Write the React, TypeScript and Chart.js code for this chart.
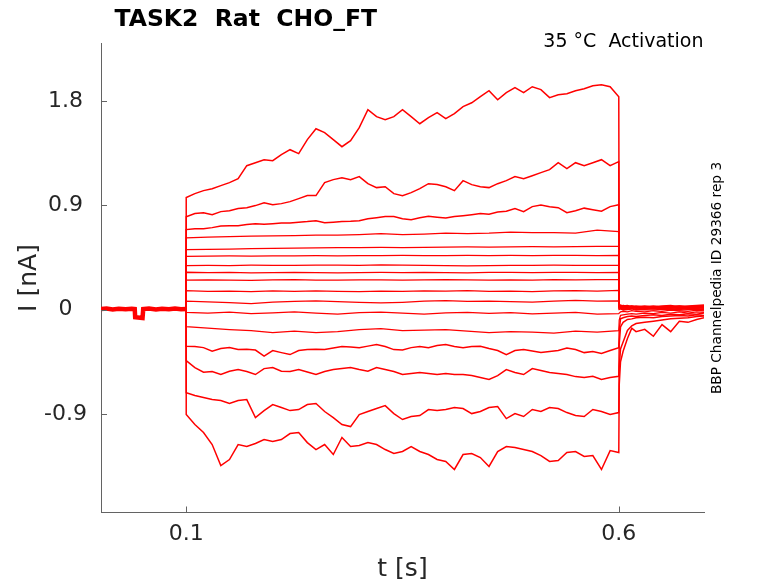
import React, { useEffect, useRef } from 'react';
import { Chart, registerables } from 'chart.js';

Chart.register(...registerables);

// ---------- texts ----------
const TITLE = 'TASK2  Rat  CHO_FT';
const CONDITION = '35 °C  Activation';
const SOURCE = 'BBP Channelpedia ID 29366 rep 3';
const X_LABEL = 't [s]';
const Y_LABEL = 'I [nA]';

// ---------- axes ----------
const X_MIN = 0.0015;
const X_MAX = 0.6985;
const Y_MIN = -1.75;
const Y_MAX = 2.295;
const X_TICKS = [0.1, 0.6];
const X_TICK_LABELS = ['0.1', '0.6'];
const Y_TICKS = [-0.9, 0, 0.9, 1.8];
const Y_TICK_LABELS = ['-0.9', '0', '0.9', '1.8'];

// ---------- time bases (s) ----------
const STEP_START = 0.1;
const PRE_T = [0.0015, 0.008, 0.015, 0.022, 0.03, 0.037, 0.0405, 0.041, 0.0495, 0.0503, 0.057, 0.065, 0.072, 0.08, 0.087, 0.094, 0.1];
const PRE_I = [0.004, 0.009, 0.002, 0.008, 0.003, 0.007, 0.004, -0.066, -0.072, 0.005, 0.009, 0.002, 0.008, 0.004, 0.01, 0.004, 0.006];

const T_FINE = [0.1, 0.11, 0.12, 0.13, 0.14, 0.15, 0.16, 0.17, 0.18, 0.19, 0.2, 0.21, 0.22, 0.23, 0.24, 0.25, 0.26, 0.27, 0.28, 0.29, 0.3, 0.31, 0.32, 0.33, 0.34, 0.35, 0.36, 0.37, 0.38, 0.39, 0.4, 0.41, 0.42, 0.43, 0.44, 0.45, 0.46, 0.47, 0.48, 0.49, 0.5, 0.51, 0.52, 0.53, 0.54, 0.55, 0.56, 0.57, 0.58, 0.59, 0.6];
const T_COARSE = [0.1, 0.125, 0.15, 0.175, 0.2, 0.225, 0.25, 0.275, 0.3, 0.325, 0.35, 0.375, 0.4, 0.425, 0.45, 0.475, 0.5, 0.525, 0.55, 0.575, 0.6];
const TAIL_T = [0.6005, 0.602, 0.605, 0.61, 0.615, 0.62, 0.63, 0.64, 0.65, 0.66, 0.67, 0.68, 0.69, 0.6985];

// ---------- currents during the step (nA) ----------
const I_01 = [0.966, 1.0, 1.026, 1.043, 1.069, 1.095, 1.129, 1.241, 1.267, 1.293, 1.284, 1.336, 1.379, 1.345, 1.466, 1.56, 1.526, 1.466, 1.405, 1.457, 1.569, 1.724, 1.664, 1.638, 1.664, 1.724, 1.664, 1.603, 1.655, 1.698, 1.647, 1.69, 1.75, 1.784, 1.836, 1.888, 1.81, 1.871, 1.914, 1.871, 1.922, 1.897, 1.828, 1.853, 1.862, 1.888, 1.905, 1.931, 1.94, 1.922, 1.836];
const I_02 = [0.8, 0.828, 0.836, 0.819, 0.845, 0.853, 0.871, 0.879, 0.897, 0.922, 0.905, 0.914, 0.931, 0.957, 0.983, 0.983, 1.095, 1.121, 1.138, 1.121, 1.147, 1.086, 1.052, 1.06, 1.0, 0.983, 1.009, 1.043, 1.086, 1.078, 1.06, 1.026, 1.112, 1.078, 1.06, 1.052, 1.086, 1.112, 1.147, 1.129, 1.155, 1.181, 1.207, 1.267, 1.216, 1.267, 1.241, 1.267, 1.293, 1.241, 1.276];
const I_03 = [0.69, 0.698, 0.698, 0.707, 0.72, 0.724, 0.724, 0.733, 0.741, 0.737, 0.741, 0.746, 0.747, 0.754, 0.759, 0.767, 0.75, 0.754, 0.759, 0.761, 0.767, 0.784, 0.793, 0.802, 0.802, 0.784, 0.776, 0.793, 0.804, 0.797, 0.79, 0.802, 0.81, 0.819, 0.828, 0.823, 0.841, 0.849, 0.871, 0.845, 0.888, 0.901, 0.888, 0.879, 0.836, 0.853, 0.875, 0.862, 0.849, 0.888, 0.905];
const I_04 = [0.618, 0.624, 0.63, 0.633, 0.636, 0.638, 0.642, 0.642, 0.647, 0.655, 0.647, 0.651, 0.659, 0.655, 0.659, 0.668, 0.664, 0.664, 0.659, 0.685, 0.672];
const I_05 = [0.517, 0.52, 0.522, 0.525, 0.527, 0.53, 0.532, 0.534, 0.535, 0.536, 0.535, 0.537, 0.538, 0.54, 0.538, 0.541, 0.543, 0.541, 0.544, 0.545, 0.546];
const I_06 = [0.46, 0.462, 0.463, 0.461, 0.464, 0.463, 0.465, 0.464, 0.466, 0.465, 0.467, 0.466, 0.465, 0.467, 0.466, 0.468, 0.466, 0.467, 0.468, 0.466, 0.467];
const I_07 = [0.379, 0.381, 0.38, 0.383, 0.382, 0.381, 0.384, 0.383, 0.382, 0.385, 0.383, 0.381, 0.38, 0.378, 0.38, 0.382, 0.381, 0.383, 0.382, 0.381, 0.382];
const I_08 = [0.322, 0.318, 0.32, 0.317, 0.319, 0.321, 0.318, 0.316, 0.319, 0.32, 0.318, 0.321, 0.319, 0.317, 0.32, 0.322, 0.319, 0.321, 0.32, 0.318, 0.321];
const I_09 = [0.254, 0.257, 0.255, 0.253, 0.256, 0.258, 0.255, 0.254, 0.257, 0.256, 0.254, 0.257, 0.259, 0.256, 0.254, 0.257, 0.255, 0.258, 0.256, 0.259, 0.258];
const I_10 = [0.163, 0.158, 0.16, 0.155, 0.161, 0.157, 0.162, 0.158, 0.154, 0.16, 0.157, 0.162, 0.159, 0.163, 0.158, 0.16, 0.156, 0.161, 0.164, 0.159, 0.166];
const I_11 = [0.072, 0.066, 0.06, 0.052, 0.065, 0.07, 0.075, 0.068, 0.062, 0.058, 0.063, 0.072, 0.078, 0.07, 0.074, 0.069, 0.065, 0.072, 0.08, 0.074, 0.076];
const I_12 = [-0.025, -0.03, -0.022, -0.035, -0.028, -0.02, -0.03, -0.038, -0.027, -0.022, -0.031, -0.04, -0.029, -0.024, -0.033, -0.027, -0.036, -0.03, -0.025, -0.038, -0.034];
const I_13 = [-0.147, -0.159, -0.172, -0.181, -0.198, -0.185, -0.198, -0.19, -0.172, -0.164, -0.181, -0.177, -0.172, -0.185, -0.198, -0.19, -0.194, -0.203, -0.185, -0.194, -0.181];
const I_14 = [-0.316, -0.319, -0.328, -0.359, -0.336, -0.328, -0.345, -0.341, -0.349, -0.401, -0.353, -0.371, -0.388, -0.353, -0.345, -0.341, -0.345, -0.332, -0.319, -0.323, -0.328, -0.315, -0.302, -0.319, -0.345, -0.349, -0.328, -0.319, -0.328, -0.31, -0.302, -0.319, -0.328, -0.319, -0.316, -0.336, -0.353, -0.388, -0.353, -0.345, -0.358, -0.371, -0.362, -0.353, -0.332, -0.345, -0.371, -0.362, -0.379, -0.353, -0.328];
const I_15 = [-0.44, -0.5, -0.54, -0.534, -0.56, -0.532, -0.517, -0.534, -0.56, -0.509, -0.5, -0.532, -0.534, -0.517, -0.539, -0.56, -0.534, -0.517, -0.509, -0.5, -0.517, -0.532, -0.5, -0.517, -0.534, -0.56, -0.552, -0.543, -0.552, -0.56, -0.552, -0.56, -0.56, -0.569, -0.586, -0.603, -0.569, -0.517, -0.543, -0.56, -0.509, -0.526, -0.543, -0.552, -0.56, -0.578, -0.586, -0.575, -0.603, -0.586, -0.575];
const I_16 = [-0.716, -0.741, -0.759, -0.776, -0.784, -0.81, -0.784, -0.776, -0.931, -0.871, -0.819, -0.845, -0.871, -0.862, -0.819, -0.81, -0.879, -0.931, -0.991, -1.009, -0.905, -0.879, -0.853, -0.828, -0.897, -0.948, -0.922, -0.914, -0.862, -0.871, -0.862, -0.845, -0.853, -0.897, -0.879, -0.845, -0.836, -0.94, -0.897, -0.922, -0.862, -0.879, -0.845, -0.853, -0.888, -0.914, -0.922, -0.862, -0.879, -0.905, -0.888];
const I_17 = [-0.905, -0.991, -1.06, -1.164, -1.345, -1.293, -1.164, -1.181, -1.155, -1.121, -1.138, -1.121, -1.069, -1.06, -1.147, -1.207, -1.164, -1.25, -1.103, -1.181, -1.172, -1.147, -1.164, -1.207, -1.241, -1.224, -1.181, -1.224, -1.25, -1.293, -1.31, -1.379, -1.25, -1.241, -1.276, -1.353, -1.224, -1.181, -1.19, -1.207, -1.224, -1.259, -1.31, -1.302, -1.233, -1.224, -1.267, -1.259, -1.379, -1.216, -1.233];

// ---------- tail currents after the step (nA) ----------
const TAIL_01 = [0.04, 0.03, 0.035, 0.025, 0.03, 0.02, 0.025, 0.03, 0.02, 0.025, 0.03, 0.02, 0.03, 0.025];
const TAIL_02 = [0.035, 0.04, 0.03, 0.035, 0.025, 0.03, 0.02, 0.025, 0.03, 0.035, 0.025, 0.03, 0.035, 0.04];
const TAIL_03 = [0.03, 0.025, 0.035, 0.02, 0.03, 0.025, 0.03, 0.02, 0.025, 0.02, 0.03, 0.025, 0.02, 0.03];
const TAIL_04 = [0.02, 0.03, 0.025, 0.03, 0.02, 0.025, 0.015, 0.02, 0.025, 0.03, 0.02, 0.025, 0.03, 0.035];
const TAIL_05 = [0.025, 0.02, 0.03, 0.015, 0.025, 0.02, 0.025, 0.015, 0.02, 0.025, 0.015, 0.02, 0.025, 0.02];
const TAIL_06 = [0.02, 0.025, 0.015, 0.02, 0.015, 0.02, 0.025, 0.02, 0.01, 0.015, 0.02, 0.015, 0.02, 0.025];
const TAIL_07 = [0.015, 0.02, 0.02, 0.01, 0.015, 0.02, 0.01, 0.015, 0.02, 0.01, 0.015, 0.01, 0.02, 0.015];
const TAIL_08 = [0.02, 0.015, 0.01, 0.015, 0.02, 0.01, 0.015, 0.005, 0.01, 0.015, 0.02, 0.01, 0.015, 0.01];
const TAIL_09 = [0.01, 0.015, 0.005, 0.01, 0.01, 0.015, 0.005, 0.01, 0.015, 0.005, 0.01, 0.005, 0.01, 0.015];
const TAIL_10 = [0.005, 0.01, 0.0, 0.005, 0.01, 0.0, 0.005, 0.01, 0.0, 0.005, 0.0, 0.01, 0.005, 0.0];
const TAIL_11 = [0.0, 0.005, -0.005, 0.0, 0.005, -0.005, 0.0, -0.005, 0.005, 0.0, -0.005, 0.0, 0.005, -0.005];
const TAIL_12 = [-0.03, -0.02, -0.015, -0.02, -0.01, -0.015, -0.02, -0.01, -0.015, -0.005, -0.01, -0.015, -0.005, -0.01];
const TAIL_13 = [-0.09, -0.05, -0.045, -0.04, -0.035, -0.04, -0.03, -0.035, -0.025, -0.03, -0.02, -0.03, -0.02, -0.025];
const TAIL_14 = [-0.18, -0.08, -0.07, -0.06, -0.055, -0.06, -0.05, -0.045, -0.05, -0.04, -0.045, -0.035, -0.04, -0.03];
const TAIL_15 = [-0.3, -0.15, -0.11, -0.085, -0.08, -0.07, -0.065, -0.07, -0.06, -0.055, -0.05, -0.055, -0.045, -0.05];
const TAIL_16 = [-0.5, -0.34, -0.28, -0.18, -0.14, -0.12, -0.11, -0.1, -0.09, -0.08, -0.075, -0.07, -0.06, -0.055];
const TAIL_17 = [-0.65, -0.45, -0.36, -0.25, -0.16, -0.19, -0.17, -0.23, -0.13, -0.19, -0.1, -0.11, -0.085, -0.07];

const TRACES = [
  { t: T_FINE, i: I_01, tail: TAIL_01 },
  { t: T_FINE, i: I_02, tail: TAIL_02 },
  { t: T_FINE, i: I_03, tail: TAIL_03 },
  { t: T_COARSE, i: I_04, tail: TAIL_04 },
  { t: T_COARSE, i: I_05, tail: TAIL_05 },
  { t: T_COARSE, i: I_06, tail: TAIL_06 },
  { t: T_COARSE, i: I_07, tail: TAIL_07 },
  { t: T_COARSE, i: I_08, tail: TAIL_08 },
  { t: T_COARSE, i: I_09, tail: TAIL_09 },
  { t: T_COARSE, i: I_10, tail: TAIL_10 },
  { t: T_COARSE, i: I_11, tail: TAIL_11 },
  { t: T_COARSE, i: I_12, tail: TAIL_12 },
  { t: T_COARSE, i: I_13, tail: TAIL_13 },
  { t: T_FINE, i: I_14, tail: TAIL_14 },
  { t: T_FINE, i: I_15, tail: TAIL_15 },
  { t: T_FINE, i: I_16, tail: TAIL_16 },
  { t: T_FINE, i: I_17, tail: TAIL_17 },
];

// ---------- styles ----------
const W = 778;
const H = 583;
const TRACE_COLOR = 'rgb(255,0,0)';
const AXIS_COLOR = '#636363';
const TEXT_COLOR = '#262626';
const FONT = '"DejaVu Sans", Verdana, sans-serif';

function buildTrace(times: number[], vals: number[], tail: number[]) {
  const pts: { x: number; y: number }[] = [{ x: STEP_START, y: 0 }];
  times.forEach((t, k) => pts.push({ x: t, y: vals[k] }));
  TAIL_T.forEach((t, k) => pts.push({ x: t, y: tail[k] }));
  return pts;
}

const decorPlugin = {
  id: 'decor',
  afterDraw(chart: any) {
    const { ctx, chartArea: a, scales } = chart;
    const xs = scales.x;
    const ys = scales.y;
    ctx.save();
    // inward tick marks
    ctx.strokeStyle = AXIS_COLOR;
    ctx.lineWidth = 1;
    ctx.beginPath();
    X_TICKS.forEach((v) => {
      const px = Math.round(xs.getPixelForValue(v)) + 0.5;
      ctx.moveTo(px, a.bottom);
      ctx.lineTo(px, a.bottom - 6);
    });
    Y_TICKS.forEach((v) => {
      const py = Math.round(ys.getPixelForValue(v)) + 0.5;
      ctx.moveTo(a.left, py);
      ctx.lineTo(a.left + 6, py);
    });
    ctx.stroke();

    // title
    ctx.fillStyle = '#000';
    ctx.textBaseline = 'alphabetic';
    ctx.textAlign = 'left';
    ctx.font = `bold 23.5px ${FONT}`;
    ctx.fillText(TITLE, 114.5, 26);

    // condition
    ctx.font = `19px ${FONT}`;
    ctx.textAlign = 'right';
    ctx.fillText(CONDITION, a.right - 0.5, 47.3);

    // x label
    ctx.fillStyle = TEXT_COLOR;
    ctx.font = `25px ${FONT}`;
    ctx.textAlign = 'center';
    ctx.fillText(X_LABEL, (a.left + a.right) / 2, 576);

    // y label
    ctx.save();
    ctx.translate(35.7, (a.top + a.bottom) / 2);
    ctx.rotate(-Math.PI / 2);
    ctx.fillText(Y_LABEL, 0, 0);
    ctx.restore();

    // source label
    ctx.save();
    ctx.fillStyle = '#000';
    ctx.font = `13.7px ${FONT}`;
    ctx.translate(720.5, (a.top + a.bottom) / 2);
    ctx.rotate(-Math.PI / 2);
    ctx.textAlign = 'center';
    ctx.fillText(SOURCE, 0, 0);
    ctx.restore();

    ctx.restore();
  },
};

export default function App() {
  const ref = useRef<HTMLCanvasElement | null>(null);

  useEffect(() => {
    if (!ref.current) return;
    const datasets: any[] = [
      {
        data: PRE_T.map((t, k) => ({ x: t, y: PRE_I[k] })),
        borderColor: TRACE_COLOR,
        borderWidth: 4.5,
        pointRadius: 0,
      },
      ...TRACES.map((tr) => ({
        data: buildTrace(tr.t, tr.i, tr.tail),
        borderColor: TRACE_COLOR,
        borderWidth: tr.t === T_FINE ? 1.5 : 1.25,
        pointRadius: 0,
      })),
    ];

    const chart = new Chart(ref.current, {
      type: 'line',
      data: { datasets },
      options: {
        animation: false,
        responsive: false,
        maintainAspectRatio: false,
        events: [],
        layout: { padding: { left: 0, right: W - 704, top: 43.5, bottom: 0 } },
        plugins: {
          legend: { display: false },
          tooltip: { enabled: false },
          title: { display: false },
        },
        elements: { line: { tension: 0 }, point: { radius: 0 } },
        scales: {
          x: {
            type: 'linear',
            min: X_MIN,
            max: X_MAX,
            afterBuildTicks: (s: any) => {
              s.ticks = X_TICKS.map((v) => ({ value: v }));
            },
            afterFit: (s: any) => {
              s.height = H - 512.5;
            },
            ticks: {
              autoSkip: false,
              maxRotation: 0,
              padding: 9,
              color: TEXT_COLOR,
              font: { family: FONT, size: 22 },
              callback: (_v: any, idx: number) => X_TICK_LABELS[idx],
            },
            grid: { display: true, drawOnChartArea: false, drawTicks: false },
            border: { display: true, color: AXIS_COLOR, width: 1 },
          },
          y: {
            type: 'linear',
            min: Y_MIN,
            max: Y_MAX,
            afterBuildTicks: (s: any) => {
              s.ticks = Y_TICKS.map((v) => ({ value: v }));
            },
            afterFit: (s: any) => {
              s.width = 101;
            },
            ticks: {
              autoSkip: false,
              padding: 14,
              crossAlign: 'center',
              color: TEXT_COLOR,
              font: { family: FONT, size: 22 },
              callback: (_v: any, idx: number) => Y_TICK_LABELS[idx],
            },
            grid: { display: true, drawOnChartArea: false, drawTicks: false },
            border: { display: true, color: AXIS_COLOR, width: 1 },
          },
        },
      },
      plugins: [decorPlugin],
    } as any);

    return () => chart.destroy();
  }, []);

  return (
    <div style={{ position: 'fixed', left: 0, top: 0, width: W, height: H, background: '#fff' }}>
      <canvas ref={ref} width={W} height={H} style={{ width: W, height: H, display: 'block' }} />
    </div>
  );
}
